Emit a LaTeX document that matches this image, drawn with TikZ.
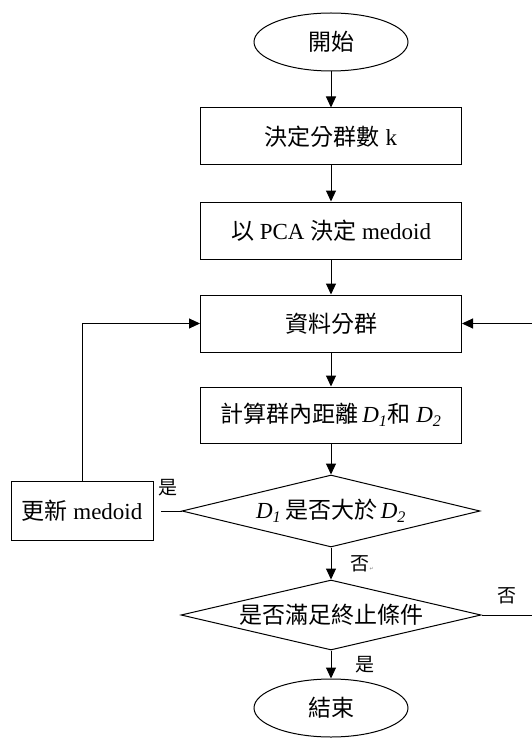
\documentclass[tikz,border=0pt]{standalone}
\usepackage{fontspec}
\setmainfont{Liberation Serif}
\newfontfamily\cjk{Noto Sans CJK TC}
\newfontfamily\symf{DejaVu Sans}
\usepackage{tikz}
\usetikzlibrary{positioning,shapes.geometric,arrows.meta}

\begin{document}
\begin{tikzpicture}[x=1pt,y=1pt,font=\fontsize{23}{27}\selectfont,>={Triangle[length=11pt,width=10pt]},line width=1pt]
            \tikzstyle{term node}=[ellipse,draw,minimum width=154pt,minimum height=58pt,inner sep=0]
            \tikzstyle{proc node}=[rectangle,draw,minimum width=261pt,minimum height=57pt,inner sep=0]
            \tikzstyle{dec node}=[diamond,draw,inner sep=0]
            \tikzstyle{tag}=[font={\cjk\fontsize{19}{22}\selectfont},inner sep=1pt]
            \clip (0,0) rectangle (532,-738);
            \node(start)[term node] at (331,-42){{\cjk 開始}};
            \node(numk)[proc node,below=36pt of start]{{\cjk 決定分群數} k};
            \node(pca)[proc node,below=36pt of numk]{{\cjk 以} PCA {\cjk 決定} medoid};
            \node(clus)[proc node,below=35pt of pca]{{\cjk 資料分群}};
            \node(dist)[proc node,minimum height=56pt,below=34pt of clus]{{\cjk 計算群內距離}\,\textit{D\textsubscript{1}}{\cjk 和} \textit{D\textsubscript{2}}};
            \node(cmp)[dec node,aspect=4.14,minimum width=298pt,minimum height=72pt,below=31pt of dist]{\textit{D\textsubscript{1}}\,{\cjk 是否大於}\,\textit{D\textsubscript{2}}};
            \node(stop)[dec node,aspect=4.29,minimum width=300pt,minimum height=70pt,below=32pt of cmp]{{\cjk 是否滿足終止條件}};
            \node(end)[term node,below=28pt of stop]{{\cjk 結束}};
            \node(upd)[rectangle,draw,minimum width=142pt,minimum height=59pt,inner sep=0,left=28pt of cmp]{{\cjk 更新} medoid};
            \coordinate(loop) at ([xshift=65pt]stop.east);
            % main flow
            \draw[->] (start) -- (numk);
            \draw[->] (numk) -- (pca);
            \draw[->] (pca) -- (clus);
            \draw[->] (clus) -- (dist);
            \draw[->] (dist) -- (cmp);
            \draw[->] (cmp) -- node[tag,right,xshift=18pt]{否{\symf\tiny\color{gray}↵}} (stop);
            \draw[->] (stop) -- node[tag,right,xshift=23pt]{是} (end);
            % loops back to clustering
            \draw[shorten >=7pt] (cmp.west) -- (upd.east);
            \node(yes)[tag,above right=13pt and 3pt of upd.east]{是};
            \draw[->] (upd.north) |- (clus.west);
            \draw[->] (stop.east) -- node[tag,above=9pt,xshift=-7pt]{否} (loop) |- (clus.east);
          \end{tikzpicture}
\end{document}
